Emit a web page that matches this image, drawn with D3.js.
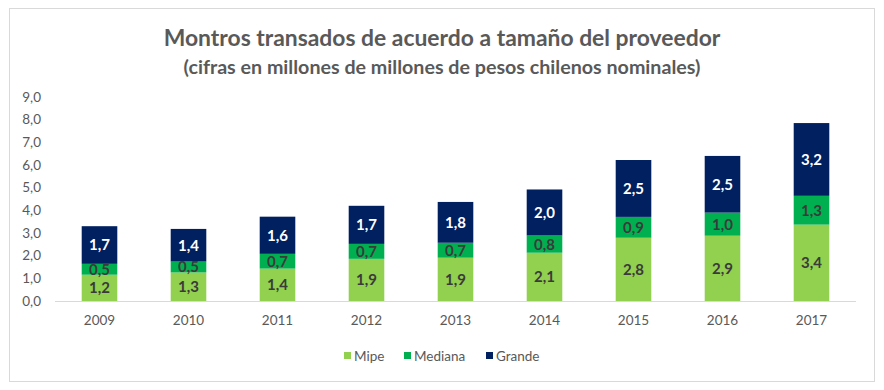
<!DOCTYPE html>
<html><head><meta charset="utf-8">
<script src="https://cdn.jsdelivr.net/npm/d3@7"></script>
<style>
html,body{margin:0;padding:0;background:#fff;}
svg{display:block;font-family:Lato,"Open Sans",sans-serif;}
</style></head>
<body>
<svg id="chart" width="884" height="390"></svg>
<script>
const years = ["2009","2010","2011","2012","2013","2014","2015","2016","2017"];
const mipe    = [1.16, 1.26, 1.43, 1.86, 1.91, 2.13, 2.79, 2.88, 3.37];
const mediana = [0.48, 0.48, 0.65, 0.66, 0.66, 0.76, 0.92, 1.02, 1.27];
const grande  = [1.66, 1.44, 1.64, 1.68, 1.80, 2.03, 2.51, 2.50, 3.21];
const seriesNames = ["Mipe","Mediana","Grande"];
const yTicks = [0,1,2,3,4,5,6,7,8,9];
const titleText = "Montros transados de acuerdo a tamaño del proveedor";
const subtitleText = "(cifras en millones de millones de pesos chilenos nominales)";

const colors = {Mipe:"#92d050", Mediana:"#00b050", Grande:"#002060"};
const labelColors = {Mipe:"#3a3a3a", Mediana:"#3a3a3a", Grande:"#ffffff"};

const svg = d3.select("#chart");
// chart border
svg.append("rect").attr("x",9.5).attr("y",8.5).attr("width",865).attr("height",373)
  .attr("fill","#fff").attr("stroke","#d9d9d9").attr("stroke-width",1);

function fitText(sel, target){
  const w = sel.node().getComputedTextLength();
  const fs = parseFloat(sel.attr("font-size"));
  sel.attr("font-size", fs*target/w);
}
const t = svg.append("text").attr("x",442).attr("y",46).attr("text-anchor","middle")
  .attr("font-size",22).attr("font-weight","bold").attr("fill","#595959").text(titleText);
fitText(t, 557);
const st = svg.append("text").attr("x",442).attr("y",74).attr("text-anchor","middle")
  .attr("font-size",17).attr("font-weight","bold").attr("fill","#595959").text(subtitleText);
fitText(st, 517);

const x = d3.scaleBand().domain(years).range([55,856]).paddingInner(0.6).paddingOuter(0.3);
const y = d3.scaleLinear().domain([0,9]).range([301,97]);

const rows = years.map((yr,i)=>({year:yr, Mipe:mipe[i], Mediana:mediana[i], Grande:grande[i]}));
const stack = d3.stack().keys(seriesNames)(rows);

const fmt = v => d3.format(".1f")(v).replace(".",",");

// y axis
const yAxis = svg.append("g").attr("transform","translate(41,0)")
  .call(d3.axisLeft(y).tickValues(yTicks).tickSize(0).tickPadding(0).tickFormat(fmt));
yAxis.select(".domain").remove();
yAxis.selectAll("text").attr("font-size",13.5).attr("fill","#595959").attr("font-family","Lato,'Open Sans',sans-serif");

// baseline
svg.append("line").attr("x1",55).attr("x2",856).attr("y1",y(0)+0.5).attr("y2",y(0)+0.5)
  .attr("stroke","#d9d9d9").attr("stroke-width",1);

// x axis
const xAxis = svg.append("g").attr("transform",`translate(0,${y(0)})`)
  .call(d3.axisBottom(x).tickSize(0).tickPadding(14));
xAxis.select(".domain").remove();
xAxis.selectAll("text").attr("font-size",13.5).attr("fill","#595959").attr("font-family","Lato,'Open Sans',sans-serif");

// bars
const groups = svg.append("g").selectAll("g").data(stack).join("g")
  .attr("fill", d=>colors[d.key]);
groups.selectAll("rect").data(d=>d).join("rect")
  .attr("x", d=>x(d.data.year)).attr("width", x.bandwidth())
  .attr("y", d=>y(d[1])).attr("height", d=>y(d[0])-y(d[1]));

// labels
const lg = svg.append("g");
stack.forEach(s=>{
  lg.selectAll(null).data(s).join("text")
    .attr("x", d=>x(d.data.year)+x.bandwidth()/2)
    .attr("y", d=>(y(d[0])+y(d[1]))/2)
    .attr("dy","0.36em").attr("text-anchor","middle")
    .attr("font-size",15).attr("font-weight","bold")
    .attr("fill", labelColors[s.key])
    .text(d=>fmt(d[1]-d[0]));
});

// legend
const legendX = [344, 404, 486];
const leg = svg.append("g");
seriesNames.forEach((n,i)=>{
  leg.append("rect").attr("x",legendX[i]).attr("y",352).attr("width",7).attr("height",7).attr("fill",colors[n]);
  leg.append("text").attr("x",legendX[i]+10).attr("y",356).attr("dy","0.35em")
    .attr("font-size",13.5).attr("fill","#595959").text(n);
});
</script>
</body></html>
